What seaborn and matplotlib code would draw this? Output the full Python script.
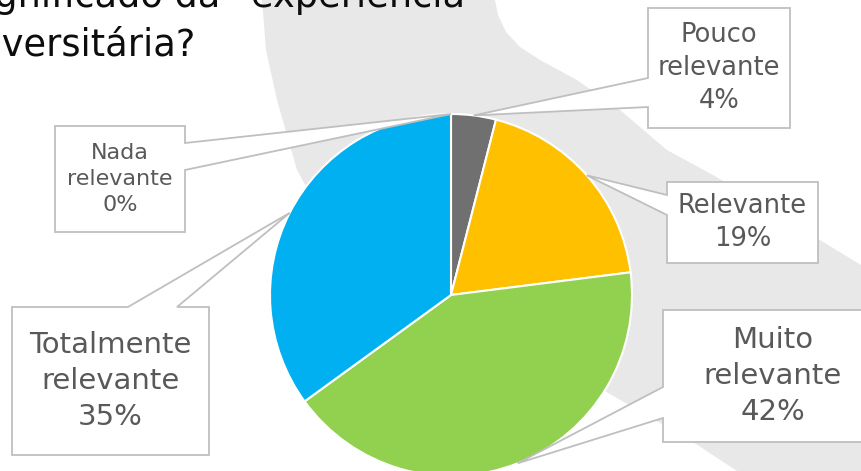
import numpy as np
import matplotlib
matplotlib.use('Agg')
import matplotlib.pyplot as plt
import seaborn as sns
from matplotlib.patches import Polygon

# Data
categories = ['Nada\nrelevante', 'Pouco\nrelevante', 'Relevante', 'Muito\nrelevante', 'Totalmente\nrelevante']
shares = [0, 4, 19, 42, 35]
colors = ['#A5A5A5', '#707070', '#FFC000', '#92D050', '#00B0F0']
title_lines = ['significado da “experiência', 'universitária?']

# Layout (image pixels, origin top-left)
W, H = 861, 471
CX, CY, R = 451, 295, 181
boxes = [
    # (x0, y0, x1, y1, side, base_a, base_b, fontsize)
    (55, 126, 185, 232, 'right', 143, 170, 16),
    (648, 8, 790, 128, 'left', 78, 107, 18.5),
    (667, 182, 818, 263, 'left', 195, 215, 18.5),
    (663, 310, 882, 442, 'left', 387, 418, 21),
    (12, 307, 209, 455, 'top', 128, 177, 21),
]
swoosh = [(262, 0), (495, 0), (498, 15), (506, 32), (520, 47), (540, 60), (577, 80),
          (620, 110), (667, 150), (713, 175), (861, 265), (861, 471), (737, 471),
          (693, 442), (603, 390), (540, 350), (450, 300), (330, 230), (297, 170),
          (277, 100), (266, 50)]


def callout_polygon(x0, y0, x1, y1, side, a, b, tip):
    if side == 'right':
        return [(x0, y0), (x1, y0), (x1, a), tip, (x1, b), (x1, y1), (x0, y1)]
    if side == 'left':
        return [(x0, y0), (x1, y0), (x1, y1), (x0, y1), (x0, b), tip, (x0, a)]
    return [(x0, y0), (a, y0), tip, (b, y0), (x1, y0), (x1, y1), (x0, y1)]


def main():
    sns.set_theme(style='white')
    plt.rcParams['font.family'] = ['DejaVu Sans']

    fig = plt.figure(figsize=(W / 100, H / 100), dpi=100)
    fig.patch.set_facecolor('white')

    # background layer with the grey swoosh and the (cropped) title
    ax_bg = fig.add_axes([0, 0, 1, 1], zorder=0)
    ax_bg.set_xlim(0, W)
    ax_bg.set_ylim(H, 0)
    ax_bg.axis('off')
    ax_bg.add_patch(Polygon(swoosh, closed=True, facecolor='#E8E8E8', edgecolor='none'))
    ax_bg.text(465, 7, title_lines[0], ha='right', va='baseline', fontsize=26.5, color='#0D0D0D')
    ax_bg.text(196, 55, title_lines[1], ha='right', va='baseline', fontsize=26.5, color='#0D0D0D')

    # pie
    ax_pie = fig.add_axes([(CX - R) / W, (H - CY - R) / H, 2 * R / W, 2 * R / H], zorder=1)
    ax_pie.pie(shares, colors=colors, startangle=90, counterclock=False,
               wedgeprops=dict(edgecolor='white', linewidth=1.5))
    ax_pie.set_xlim(-1, 1)
    ax_pie.set_ylim(-1, 1)
    ax_pie.set_aspect('equal')

    # callouts layer
    ax_top = fig.add_axes([0, 0, 1, 1], zorder=2)
    ax_top.set_xlim(0, W)
    ax_top.set_ylim(H, 0)
    ax_top.axis('off')

    total = sum(shares)
    cum = np.cumsum([0] + shares[:-1])
    for cat, share, start, box in zip(categories, shares, cum, boxes):
        mid = (start + share / 2) / total * 2 * np.pi
        disp = ax_pie.transData.transform((np.sin(mid), np.cos(mid)))
        tip = tuple(ax_top.transData.inverted().transform(disp))
        x0, y0, x1, y1, side, a, b, fs = box
        pts = callout_polygon(x0, y0, x1, y1, side, a, b, tip)
        ax_top.add_patch(Polygon(pts, closed=True, facecolor='white', edgecolor='#BFBFBF',
                                 linewidth=1.3, joinstyle='miter'))
        ax_top.text((x0 + x1) / 2, (y0 + y1) / 2, f'{cat}\n{share}%', ha='center', va='center',
                    fontsize=fs, color='#595959', linespacing=1.35)

    fig.savefig('out.png', dpi=100)


if __name__ == '__main__':
    main()
